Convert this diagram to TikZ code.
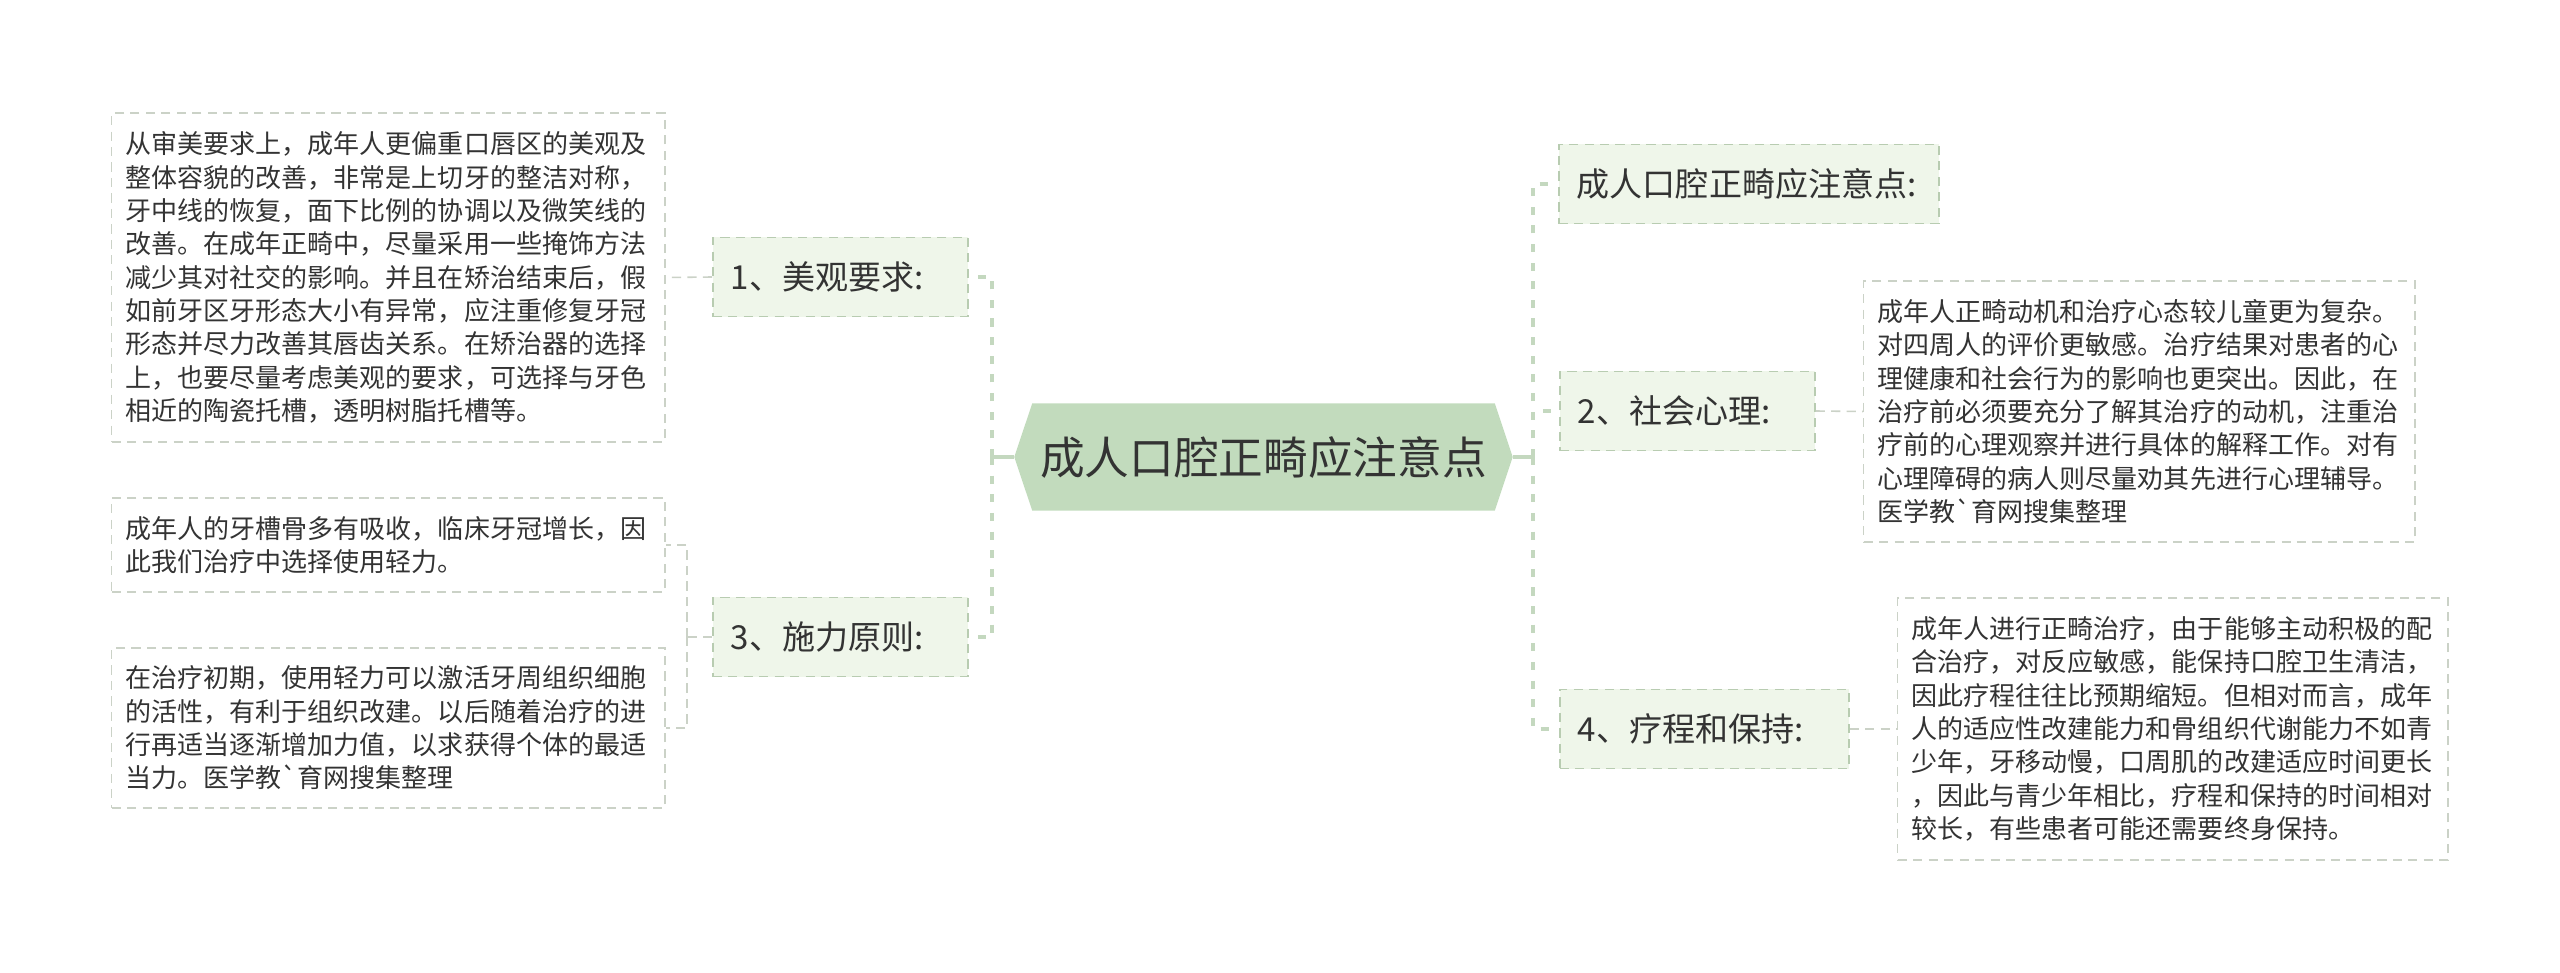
\documentclass[tikz,border=0pt]{standalone}
\usepackage{fontspec}
\setmainfont{Noto Sans CJK SC}[Ligatures=TeXOff]
\usetikzlibrary{shapes.symbols}
\definecolor{rootfill}{HTML}{C2DBBD}
\definecolor{topicfill}{HTML}{EFF6EA}
\definecolor{topicline}{HTML}{B8CCB1}
\definecolor{trunkline}{HTML}{C4D8BF}
\definecolor{noteline}{HTML}{CBD2C7}
\definecolor{ink}{HTML}{333333}

\begin{document}
\begin{tikzpicture}[x=0.01cm, y=-0.01cm,
  root/.style={signal, signal to=west and east, signal pointer angle=143,
    fill=rootfill, minimum height=1.07cm, inner xsep=0.08cm, inner ysep=0pt,
    text=ink, font=\fontsize{12.7pt}{15pt}\selectfont},
  topic/.style={rectangle, draw=topicline, dash pattern=on 2.6pt off 1.8pt,
    line width=0.45pt, fill=topicfill, minimum height=0.79cm, inner xsep=0.18cm,
    inner ysep=0pt, align=left, text=ink, font=\fontsize{9.4pt}{11pt}\selectfont},
  note/.style={rectangle, draw=noteline, dash pattern=on 2.6pt off 1.8pt,
    line width=0.4pt, inner xsep=0.14cm, inner ysep=0pt, align=left, text=ink,
    font=\fontsize{7.4pt}{9.47pt}\selectfont},
  trunk/.style={draw=trunkline, line width=0.9pt},
  limb/.style={trunk, dash pattern=on 2.3pt off 3pt},
  twig/.style={draw=noteline, line width=0.45pt, dash pattern=on 2.6pt off 1.8pt}]
  \useasboundingbox (0,0) rectangle (2560,973);

  \node[root] (root) at (1263.5,457) {成人口腔正畸应注意点};

  \node[topic, right, text width=2.19cm] (aesth) at (712,277) {1、美观要求:};
  \node[topic, right, text width=2.19cm] (force) at (712,637) {3、施力原则:};
  \node[topic, right, text width=3.44cm] (intro) at (1558,184) {成人口腔正畸应注意点:};
  \node[topic, right, text width=2.19cm] (psych) at (1559,411) {2、社会心理:};
  \node[topic, right, text width=2.53cm] (course) at (1559,729) {4、疗程和保持:};

  \node[note, right, text width=5.25cm, minimum height=3.29cm] (aesthnote) at (111,277.5)
    {从审美要求上，成年人更偏重口唇区的美观及\\
     整体容貌的改善，非常是上切牙的整洁对称，\\
     牙中线的恢复，面下比例的协调以及微笑线的\\
     改善。在成年正畸中，尽量采用一些掩饰方法\\
     减少其对社交的影响。并且在矫治结束后，假\\
     如前牙区牙形态大小有异常，应注重修复牙冠\\
     形态并尽力改善其唇齿关系。在矫治器的选择\\
     上，也要尽量考虑美观的要求，可选择与牙色\\
     相近的陶瓷托槽，透明树脂托槽等。};
  \node[note, right, text width=5.25cm, minimum height=0.94cm] (forcenoteA) at (111,545)
    {成年人的牙槽骨多有吸收，临床牙冠增长，因\\
     此我们治疗中选择使用轻力。};
  \node[note, right, text width=5.25cm, minimum height=1.6cm] (forcenoteB) at (111,728)
    {在治疗初期，使用轻力可以激活牙周组织细胞\\
     的活性，有利于组织改建。以后随着治疗的进\\
     行再适当逐渐增加力值，以求获得个体的最适\\
     当力。医学教`育网搜集整理};
  \node[note, right, text width=5.23cm, minimum height=2.61cm] (psychnote) at (1863,411.5)
    {成年人正畸动机和治疗心态较儿童更为复杂。\\
     对四周人的评价更敏感。治疗结果对患者的心\\
     理健康和社会行为的影响也更突出。因此，在\\
     治疗前必须要充分了解其治疗的动机，注重治\\
     疗前的心理观察并进行具体的解释工作。对有\\
     心理障碍的病人则尽量劝其先进行心理辅导。\\
     医学教`育网搜集整理};
  \node[note, right, text width=5.22cm, minimum height=2.62cm] (coursenote) at (1897,729)
    {成年人进行正畸治疗，由于能够主动积极的配\\
     合治疗，对反应敏感，能保持口腔卫生清洁，\\
     因此疗程往往比预期缩短。但相对而言，成年\\
     人的适应性改建能力和骨组织代谢能力不如青\\
     少年，牙移动慢，口周肌的改建适应时间更长\\
     ，因此与青少年相比，疗程和保持的时间相对\\
     较长，有些患者可能还需要终身保持。};

  \coordinate (ljoin) at (992,457);
  \coordinate (rjoin) at (1533,457);
  \coordinate (fjoin) at (687,637);

  \draw[trunk] (root.west) -- (ljoin);
  \draw[trunk] (root.east) -- (rjoin);
  \draw[limb] (ljoin) |- (aesth.east);
  \draw[limb] (ljoin) |- (force.east);
  \draw[limb] (rjoin) |- (intro.west);
  \draw[limb] (rjoin) |- (psych.west);
  \draw[limb] (rjoin) |- (course.west);

  \draw[twig] (aesth.west) -- (aesthnote.east);
  \draw[twig] (force.west) -- (fjoin);
  \draw[twig] (fjoin) |- (forcenoteA.east);
  \draw[twig] (fjoin) |- (forcenoteB.east);
  \draw[twig] (psych.east) -- (psychnote.west);
  \draw[twig] (course.east) -- (coursenote.west);
\end{tikzpicture}
\end{document}
